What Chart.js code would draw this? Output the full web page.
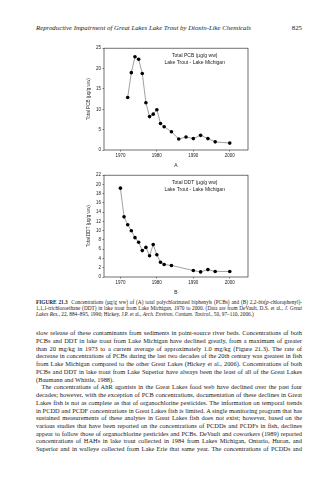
<!DOCTYPE html>
<html>
<head>
<meta charset="utf-8">
<script src="https://cdn.jsdelivr.net/npm/chart.js@4.4.0/dist/chart.umd.min.js"></script>
<style>
  html, body { margin: 0; padding: 0; background: #fff; }
  body { width: 335px; height: 480px; position: relative; overflow: hidden; font-family: "Liberation Serif", "DejaVu Serif", serif; color: #1a1a1a; }
  .hdr { position: absolute; top: 24px; left: 36px; width: 266px; font-size: 6.8px; line-height: 8px; }
  .hdr i { float: left; }
  .hdr span { float: right; }
  canvas { position: absolute; }
  .cap { position: absolute; top: 298.6px; left: 36px; width: 266px; font-size: 5.3px; line-height: 6.15px; }
  .body { position: absolute; top: 329.2px; left: 36px; width: 266px; font-size: 6.4px; line-height: 7.73px; }
  .ln { text-align: justify; text-align-last: justify; white-space: nowrap; overflow: visible; }
  .ln.last { text-align-last: left; }
  .ind { padding-left: 5.5px; }
</style>
</head>
<body>
<div class="hdr"><i>Reproductive Impairment of Great Lakes Lake Trout by Dioxin-Like Chemicals</i><span>825</span></div>

<canvas id="chartA" width="167" height="126" style="left:85px; top:44px;"></canvas>
<canvas id="chartB" width="167" height="126" style="left:85px; top:171px;"></canvas>

<div class="cap">
  <div class="ln"><b>FIGURE 21.3</b>&nbsp; Concentrations (µg/g ww) of (A) total polychlorinated biphenyls (PCBs) and (B) 2,2-<i>bis</i>(<i>p</i>-chlorophenyl)-</div>
  <div class="ln">1,1,1-trichloroethane (DDT) in lake trout from Lake Michigan, 1970 to 2000. (Data are from DeVault, D.S. et al., <i>J. Great</i></div>
  <div class="ln last"><i>Lakes Res.</i>, 22, 884–895, 1996; Hickey, J.P. et al., <i>Arch. Environ. Contam. Toxicol.</i>, 50, 97–110, 2006.)</div>
</div>

<div class="body">
  <div class="ln">slow release of these contaminants from sediments in point-source river beds. Concentrations of both</div>
  <div class="ln">PCBs and DDT in lake trout from Lake Michigan have declined greatly, from a maximum of greater</div>
  <div class="ln">than 20 mg/kg in 1973 to a current average of approximately 1.0 mg/kg (Figure 21.3). The rate of</div>
  <div class="ln">decrease in concentrations of PCBs during the last two decades of the 20th century was greatest in fish</div>
  <div class="ln">from Lake Michigan compared to the other Great Lakes (Hickey et al., 2006). Concentrations of both</div>
  <div class="ln">PCBs and DDT in lake trout from Lake Superior have always been the least of all of the Great Lakes</div>
  <div class="ln last">(Baumann and Whittle, 1988).</div>
  <div class="ln ind">The concentrations of AhR agonists in the Great Lakes food web have declined over the past four</div>
  <div class="ln">decades; however, with the exception of PCB concentrations, documentation of these declines in Great</div>
  <div class="ln">Lakes fish is not as complete as that of organochlorine pesticides. The information on temporal trends</div>
  <div class="ln">in PCDD and PCDF concentrations in Great Lakes fish is limited. A single monitoring program that has</div>
  <div class="ln">sustained measurements of these analytes in Great Lakes fish does not exist; however, based on the</div>
  <div class="ln">various studies that have been reported on the concentrations of PCDDs and PCDFs in fish, declines</div>
  <div class="ln">appear to follow those of organochlorine pesticides and PCBs. DeVault and coworkers (1989) reported</div>
  <div class="ln">concentrations of HAHs in lake trout collected in 1984 from Lakes Michigan, Ontario, Huron, and</div>
  <div class="ln">Superior and in walleye collected from Lake Erie that same year. The concentrations of PCDDs and</div>
</div>

<script>
// data
const pcbYears = [1972, 1973, 1974, 1975, 1976, 1977, 1978, 1979, 1980, 1981, 1982, 1984, 1986, 1988, 1990, 1992, 1994, 1996, 2000];
const pcbValues = [12.9, 19.0, 22.9, 22.3, 18.8, 11.6, 8.2, 8.8, 9.9, 6.5, 5.7, 4.5, 2.7, 3.2, 2.8, 3.6, 2.8, 2.0, 1.7];

const ddtYears = [1970, 1971, 1972, 1973, 1974, 1975, 1976, 1977, 1978, 1979, 1980, 1981, 1982, 1984, 1990, 1992, 1994, 1996, 2000];
const ddtValues = [19.2, 13.0, 11.3, 10.0, 8.5, 7.5, 5.7, 6.4, 4.6, 7.0, 4.8, 3.2, 2.7, 2.5, 1.4, 1.1, 1.6, 1.2, 1.2];

const yearTicks = [1970, 1980, 1990, 2000];
const pcbTicks = [0, 5, 10, 15, 20, 25];
const ddtTicks = [0, 2, 4, 6, 8, 10, 12, 14, 16, 18, 20, 22];

const sans = '"Liberation Sans", Arial, sans-serif';
const ink = '#222';

// frame around the plot area plus the two-line key in the upper right
const boxAndKey = {
  id: 'boxAndKey',
  afterDraw(chart, args, opts) {
    const a = chart.chartArea;
    const ctx = chart.ctx;
    ctx.save();
    ctx.strokeStyle = '#333';
    ctx.lineWidth = 0.7;
    ctx.strokeRect(a.left, a.top, a.right - a.left, a.bottom - a.top);
    ctx.fillStyle = ink;
    ctx.font = '5px ' + sans;
    ctx.textAlign = 'center';
    ctx.textBaseline = 'middle';
    const cx = a.left + (a.right - a.left) * 0.63;
    opts.lines.forEach((t, i) => ctx.fillText(t, cx, a.top + 7 + i * 7));
    ctx.restore();
  }
};

function makeChart(id, years, values, yTicks, yMax, yTitle, letter, key) {
  const pts = years.map((yr, i) => ({ x: yr, y: values[i] }));
  return new Chart(document.getElementById(id), {
    type: 'line',
    data: {
      datasets: [{
        data: pts,
        borderColor: '#777',
        borderWidth: 0.7,
        pointBackgroundColor: '#000',
        pointBorderColor: '#000',
        pointBorderWidth: 0,
        pointRadius: 1.8,
        tension: 0,
        fill: false
      }]
    },
    options: {
      responsive: false,
      animation: false,
      layout: { padding: { top: 4, right: 4, left: 0, bottom: 0 } },
      plugins: {
        legend: { display: false },
        tooltip: { enabled: false },
        boxAndKey: { lines: key }
      },
      scales: {
        x: {
          type: 'linear',
          min: 1965.5,
          max: 2005,
          afterBuildTicks: s => { s.ticks = yearTicks.map(v => ({ value: v })); },
          afterFit: s => { s.height = 20; },
          grid: { display: true, drawOnChartArea: false, tickLength: 1.5, color: '#333', lineWidth: 0.6 },
          border: { display: false },
          ticks: { color: ink, font: { size: 4.5, family: sans }, padding: 1.5, maxRotation: 0, callback: v => String(v) },
          title: { display: true, text: letter, color: ink, font: { size: 5, family: sans }, padding: { top: 0, bottom: 1 } }
        },
        y: {
          min: 0,
          max: yMax,
          afterBuildTicks: s => { s.ticks = yTicks.map(v => ({ value: v })); },
          afterFit: s => { s.width = 19; },
          grid: { display: true, drawOnChartArea: false, tickLength: 1.5, color: '#333', lineWidth: 0.6 },
          border: { display: false },
          ticks: { color: ink, font: { size: 4.5, family: sans }, padding: 1.5, callback: v => String(v) },
          title: { display: true, text: yTitle, color: ink, font: { size: 4.6, family: sans }, padding: { top: 1, bottom: 0 } }
        }
      }
    },
    plugins: [boxAndKey]
  });
}

makeChart('chartA', pcbYears, pcbValues, pcbTicks, 25, 'Total PCB (µg/g ww)', 'A',
  ['Total PCB (µg/g ww)', 'Lake Trout - Lake Michigan']);
makeChart('chartB', ddtYears, ddtValues, ddtTicks, 22, 'Total DDT (µg/g ww)', 'B',
  ['Total DDT (µg/g ww)', 'Lake Trout - Lake Michigan']);
</script>
</body>
</html>
